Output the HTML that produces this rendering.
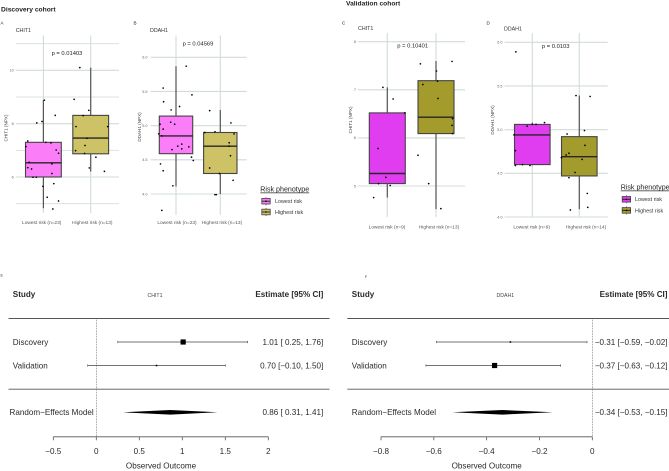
<!DOCTYPE html>
<html>
<head>
<meta charset="utf-8">
<title>CHIT1 and DDAH1 risk phenotype boxplots and forest plots</title>
<style>
html,body{margin:0;padding:0;background:#fff;}
#figure{display:block;width:669px;height:471px;font-family:"Liberation Sans",sans-serif;filter:blur(0.3px);}
</style>
</head>
<body>
<svg id="figure" xmlns="http://www.w3.org/2000/svg" width="669" height="471" viewBox="0 0 669 471">
<rect width="669" height="471" fill="#fff"/>
<text x="1" y="11.5" font-size="6.7" font-weight="bold" fill="#222">Discovery cohort</text>
<text x="346" y="5.5" font-size="6.7" font-weight="bold" fill="#222">Validation cohort</text>
<g id="plots"></g>
</svg>
<script>
// Shared categories
var boxColorsDiscovery = ['#fb7df7', '#cdc265'];
var boxColorsValidation = ['#e03cf0', '#a39b2c'];
var legendLabels = ['Lowest risk', 'Highest risk'];

// Panel A: CHIT1 discovery
var aCategories = ['Lowest risk (n=23)', 'Highest risk (n=13)'];
var aTicks = [10, 8, 6];
var aMinorTicks = [11, 9, 7, 5];
var aBoxStats = [[4.83, 6.0, 6.53, 7.3, 8.88], [6.2, 6.87, 7.46, 8.31, 10.1]];
var aLowValues = [8.88,8.03,8.08,8.31,7.35,7.14,7.30,7.28,7.01,6.89,6.55,6.35,6.30,6.49,6.13,5.99,5.99,5.65,5.75,5.24,5.10,4.80];
var aLowJitter = [.02,-.14,-.03,.25,-.33,-.37,.05,.16,.27,.32,-.30,-.33,-.25,.18,.18,-.22,-.15,-.01,.22,.08,.32,.20];
var aHighValues = [10.10,8.91,8.5,8.30,7.89,7.89,7.45,7.18,6.99,6.88,6.74,6.34,6.21];
var aHighJitter = [-.23,-.35,-.04,-.16,-.31,.36,-.08,-.12,-.32,-.13,.11,-.03,.29];

// Panel B: DDAH1 discovery
var bCategories = ['Lowest risk (n=23)', 'Highest risk (n=13)'];
var bTicks = [6.0, 5.5, 5.0, 4.5, 4.0];
var bBoxStats = [[4.11, 4.59, 4.85, 5.14, 5.87], [4.0, 4.30, 4.70, 4.90, 5.23]];
var bLowValues = [5.87,5.55,5.45,5.35,5.23,5.28,5.05,5.02,5.02,4.95,4.88,4.85,4.70,4.73,4.69,4.65,4.66,4.54,4.49,4.44,4.34,4.12,3.76];
var bLowJitter = [.23,-.29,.36,-.28,-.11,.08,-.12,-.03,-.36,-.29,-.39,-.32,.04,.13,.29,-.09,.13,.35,.39,-.35,-.29,-.07,-.32];
var bHighValues = [5.22,5.04,4.90,4.91,4.88,4.75,4.70,4.56,4.38,4.30,4.20,3.99,3.99];
var bHighJitter = [-.24,.24,-.35,-.12,.31,.2,.2,.23,-.24,-.02,.29,-.12,-.09];

// Panel C: CHIT1 validation
var cCategories = ['Lowest risk (n=9)', 'Highest risk (n=13)'];
var cTicks = [8, 7, 6, 5];
var cBoxStats = [[4.76, 5.05, 5.26, 6.52, 7.05], [4.52, 6.09, 6.43, 7.19, 7.6]];
var cLowValues = [7.05,6.81,6.52,5.78,5.18,5.05,5.01,4.76];
var cLowJitter = [-.09,.12,.36,-.19,-.03,-.18,.06,-.28];
var cHighValues = [7.54,7.59,7.39,7.18,7.11,6.82,6.40,6.26,6.09,5.64,5.05,4.53];
var cHighJitter = [-.32,.33,.01,.03,-.27,.04,.34,.33,.34,-.37,-.15,.10];

// Panel D: DDAH1 validation
var dCategories = ['Lowest risk (n=9)', 'Highest risk (n=14)'];
var dTicks = [6.0, 5.5, 5.0, 4.5, 4.0];
var dBoxStats = [[4.59, 4.60, 4.94, 5.06, 5.08], [4.09, 4.47, 4.69, 4.92, 5.39]];
var dLowValues = [5.89,5.08,5.06,5.06,5.04,4.94,4.76,4.59,4.60,4.59];
var dLowJitter = [-.35,.26,0,.08,-.11,-.39,-.36,-.36,-.21,-.05];
var dHighValues = [5.39,5.38,4.99,4.95,4.82,4.73,4.71,4.68,4.66,4.51,4.45,4.27,4.11,4.08];
var dHighJitter = [-.07,.23,.11,-.26,.12,-.22,-.28,-.38,.06,-.09,-.22,.17,.18,-.19];

// Forest plot E: CHIT1
var eStudies = ['Discovery', 'Validation'];
var eEstimates = [1.01, 0.70];
var eLower = [0.25, -0.10];
var eUpper = [1.76, 1.50];
var eWeights = [1, 0.3];
var eLabels = ['1.01 [ 0.25, 1.76]', '0.70 [\u22120.10, 1.50]'];
var ePooled = [0.31, 0.86, 1.41];
var ePooledLabel = '0.86 [ 0.31, 1.41]';
var eTicks = [-0.5, 0, 0.5, 1, 1.5, 2];
var eTickLabels = ['\u22120.5', '0', '0.5', '1', '1.5', '2'];

// Forest plot F: DDAH1
var fStudies = ['Discovery', 'Validation'];
var fEstimates = [-0.31, -0.37];
var fLower = [-0.59, -0.63];
var fUpper = [-0.02, -0.12];
var fWeights = [0.3, 1];
var fLabels = ['\u22120.31 [\u22120.59, \u22120.02]', '\u22120.37 [\u22120.63, \u22120.12]'];
var fPooled = [-0.53, -0.34, -0.15];
var fPooledLabel = '\u22120.34 [\u22120.53, \u22120.15]';
var fTicks = [-0.8, -0.6, -0.4, -0.2, 0];
var fTickLabels = ['\u22120.8', '\u22120.6', '\u22120.4', '\u22120.2', '0'];

var NS = 'http://www.w3.org/2000/svg';
var root = document.getElementById('plots');

function node(tag, props, name, parent) {
  var el = document.createElementNS(NS, tag);
  for (var k in props) { el.setAttribute(k, props[k]); }
  
  
  (parent || root).appendChild(el);
  return el;
}
function label(str, x, y, size, anchor, fill, name, parent, extra) {
  var props = {x: x, y: y, 'font-size': size, 'text-anchor': anchor, fill: fill};
  if (extra) { for (var k in extra) { props[k] = extra[k]; } }
  var t = node('text', props, name, parent);
  t.textContent = str;
  return t;
}
function linearScale(d0, r0, d1, r1) {
  return function (v) { return r0 + (v - d0) * (r1 - r0) / (d1 - d0); };
}

function boxPanel(p) {
  var g = node('g', {}, 'boxplot-' + p.id, root);
  var y = linearScale(p.dom[0], p.rng[0], p.dom[1], p.rng[1]);
  var x = linearScale(0, p.cx0, 1, p.cx1);
  label(p.letter, p.letterX, 24.5, 4.6, 'start', '#222', 'panel-letter-' + p.id, g);
  label(p.title, p.titleX, p.titleY, 5.3, 'start', '#333', 'panel-title-' + p.id, g);
  label(p.pText, p.pX, p.pY, 5.8, 'middle', '#222', 'p-value-' + p.id, g);
  (p.minor || []).forEach(function (t) {
    node('line', {x1: p.gridL, x2: p.gridR, y1: y(t), y2: y(t), stroke: '#d8e3df', 'stroke-width': 1}, 'minor-gridline', g);
  });
  p.ticks.forEach(function (t) {
    node('line', {x1: p.gridL, x2: p.gridR, y1: y(t), y2: y(t), stroke: '#d0dcd8', 'stroke-width': 1.1}, 'y-gridline', g);
    label(p.decimals ? t.toFixed(1) : String(t), p.tickR, y(t) + 1.3, 3.8, 'end', '#666', 'y-tick-label', g);
  });
  [0, 1].forEach(function (i) {
    node('line', {x1: x(i), x2: x(i), y1: p.top, y2: p.bottom, stroke: '#d0dcd8', 'stroke-width': 1.1}, 'x-gridline', g);
    label(p.cats[i], p.catLabelX[i], p.catLabelY, 4.8, 'middle', '#555', 'x-tick-label', g);
  });
  label(p.yTitle, 0, 0, 4.6, 'middle', '#444', 'y-axis-title-' + p.id, g,
        {transform: 'translate(' + p.yTitleX + ',' + p.yTitleY + ') rotate(-90)'});
  [0, 1].forEach(function (i) {
    var s = p.stats[i], cx = x(i);
    node('line', {x1: cx, x2: cx, y1: y(s[0]), y2: y(s[4]), stroke: '#555', 'stroke-width': 1.2}, 'box-whisker', g);
    node('rect', {x: cx - p.half, width: p.half * 2, y: y(s[3]), height: y(s[1]) - y(s[3]),
      fill: p.colors[i], stroke: '#444', 'stroke-width': 1.1}, 'box-' + (i ? 'highest' : 'lowest') + '-risk', g);
    node('line', {x1: cx - p.half, x2: cx + p.half, y1: y(s[2]), y2: y(s[2]), stroke: '#262626', 'stroke-width': 1.4}, 'box-median', g);
    var vals = p.points[i][0], jit = p.points[i][1];
    vals.forEach(function (v, k) {
      node('circle', {cx: x(i + jit[k]), cy: y(v), r: 0.85, fill: '#000'}, 'data-point', g);
    });
  });
}

function legend(lx, titleY, keyYs, labelX, colors, id) {
  var g = node('g', {}, 'legend-' + id, root);
  label('Risk phenotype', lx, titleY, 7.1, 'start', '#222', 'legend-title', g, {'text-decoration': 'underline'});
  [0, 1].forEach(function (i) {
    var e = node('g', {}, 'legend-entry', g);
    var kx = lx + 1.5, ky = keyYs[i];
    node('line', {x1: kx + 4.2, x2: kx + 4.2, y1: ky - 4, y2: ky + 4, stroke: '#555', 'stroke-width': 0.8}, 'legend-key-whisker', e);
    node('rect', {x: kx, y: ky - 2.8, width: 8.4, height: 5.6, fill: colors[i], stroke: '#444', 'stroke-width': 0.8}, 'legend-key-box', e);
    node('line', {x1: kx, x2: kx + 8.4, y1: ky, y2: ky, stroke: '#222', 'stroke-width': 0.9}, 'legend-key-median', e);
    node('circle', {cx: kx + 4.2, cy: ky, r: 0.8, fill: '#000'}, 'legend-key-point', e);
    label(legendLabels[i], labelX, ky + 1.9, 5.4, 'start', '#333', 'legend-label', e);
  });
}

function forest(p) {
  var g = node('g', {}, 'forest-plot-' + p.id, root);
  var x = linearScale(p.dom[0], p.rng[0], p.dom[1], p.rng[1]);
  var rows = [342, 365.5];
  var text = '#2a2a2a';
  label(p.letter, p.letterX, p.letterY, 3.6, 'start', '#222', 'panel-letter-' + p.id, g);
  label('Study', p.textX, 297, 8.1, 'start', text, 'study-header', g, {'font-weight': 'bold'});
  label(p.title, p.titleX, 296.8, 5.2, 'middle', '#444', 'forest-title-' + p.id, g);
  label('Estimate [95% CI]', p.rightX, 297, 8.1, 'end', text, 'estimate-header', g, {'font-weight': 'bold'});
  node('line', {x1: p.ruleL, x2: p.ruleR, y1: 318.5, y2: 318.5, stroke: '#555', 'stroke-width': 0.9}, 'top-rule', g);
  node('line', {x1: p.ruleL, x2: p.ruleR, y1: 389.2, y2: 389.2, stroke: '#555', 'stroke-width': 0.9}, 'pooled-rule', g);
  node('line', {x1: x(0), x2: x(0), y1: 318.5, y2: 437, stroke: '#555', 'stroke-width': 0.6, 'stroke-dasharray': '0.8 0.8'}, 'null-reference-line', g);
  p.studies.forEach(function (s, i) {
    var y = rows[i], size = p.weights[i] * 5.2;
    label(s, p.textX, y + 2.8, 8.1, 'start', text, 'study-label', g);
    node('line', {x1: x(p.lower[i]), x2: x(p.upper[i]), y1: y, y2: y, stroke: '#444', 'stroke-width': 0.8}, 'confidence-interval', g);
    node('line', {x1: x(p.lower[i]), x2: x(p.lower[i]), y1: y - 1.1, y2: y + 1.1, stroke: '#444', 'stroke-width': 0.6}, 'ci-cap-lower', g);
    node('line', {x1: x(p.upper[i]), x2: x(p.upper[i]), y1: y - 1.1, y2: y + 1.1, stroke: '#444', 'stroke-width': 0.6}, 'ci-cap-upper', g);
    node('rect', {x: x(p.est[i]) - size / 2, y: y - size / 2, width: size, height: size, fill: '#000'}, 'effect-marker', g);
    label(p.labels[i], p.rightX, y + 2.8, 8.1, 'end', text, 'estimate-label', g);
  });
  var py = 412.3;
  label('Random\u2212Effects Model', p.pooledX, py + 2.6, 8.1, 'start', text, 'pooled-label', g);
  node('polygon', {points: [x(p.pooled[0]) + ',' + py, x(p.pooled[1]) + ',' + (py - 2.3), x(p.pooled[2]) + ',' + py, x(p.pooled[1]) + ',' + (py + 2.3)].join(' '), fill: '#000'}, 'pooled-diamond', g);
  label(p.pooledLabel, p.rightX, py + 2.6, 8.1, 'end', text, 'pooled-estimate-label', g);
  var ticks = p.ticks;
  node('line', {x1: x(ticks[0]), x2: x(ticks[ticks.length - 1]), y1: 436.8, y2: 436.8, stroke: '#555', 'stroke-width': 0.8}, 'x-axis-line', g);
  ticks.forEach(function (t, i) {
    node('line', {x1: x(t), x2: x(t), y1: 436.8, y2: 440.3, stroke: '#555', 'stroke-width': 0.8}, 'x-axis-tick', g);
    label(p.tickLabels[i], x(t), 454, 8.1, 'middle', text, 'x-axis-tick-label', g);
  });
  label('Observed Outcome', p.axisTitleX, 468.5, 8.1, 'middle', text, 'x-axis-title', g);
}

boxPanel({id: 'a', letter: 'A', letterX: 0.5, title: 'CHIT1', titleX: 15.7, titleY: 32, pText: 'p = 0.01403', pX: 67, pY: 55,
  yTitle: 'CHIT1 (NPX)', yTitleX: 7.3, yTitleY: 128, dom: [10, 6], rng: [70.3, 177], ticks: aTicks, minor: aMinorTicks,
  gridL: 15.7, gridR: 119, top: 35.5, bottom: 213, cx0: 43.4, cx1: 90.7, half: 17.9, tickR: 13.7,
  cats: aCategories, catLabelX: [41.7, 92.3], catLabelY: 224, stats: aBoxStats, colors: boxColorsDiscovery,
  points: [[aLowValues, aLowJitter], [aHighValues, aHighJitter]]});

boxPanel({id: 'b', letter: 'B', letterX: 133.5, title: 'DDAH1', titleX: 150, titleY: 32, pText: 'p = 0.04569', pX: 198, pY: 45.5,
  yTitle: 'DDAH1 (NPX)', yTitleX: 140.8, yTitleY: 127, dom: [6, 4], rng: [57.3, 194], ticks: bTicks, decimals: true,
  gridL: 150.7, gridR: 246.7, top: 35.5, bottom: 215, cx0: 176, cx1: 220.3, half: 16.7, tickR: 147.5,
  cats: bCategories, catLabelX: [177, 222], catLabelY: 223.8, stats: bBoxStats, colors: boxColorsDiscovery,
  points: [[bLowValues, bLowJitter], [bHighValues, bHighJitter]]});

boxPanel({id: 'c', letter: 'C', letterX: 342, title: 'CHIT1', titleX: 358, titleY: 30, pText: 'p = 0.10401', pX: 412.7, pY: 47.5,
  yTitle: 'CHIT1 (NPX)', yTitleX: 351.8, yTitleY: 120, dom: [8, 5], rng: [41.7, 186], ticks: cTicks,
  gridL: 357.7, gridR: 465, top: 33, bottom: 217, cx0: 387.3, cx1: 436, half: 18, tickR: 356,
  cats: cCategories, catLabelX: [387, 439], catLabelY: 228.5, stats: cBoxStats, colors: boxColorsValidation,
  points: [[cLowValues, cLowJitter], [cHighValues, cHighJitter]]});

boxPanel({id: 'd', letter: 'D', letterX: 486.5, title: 'DDAH1', titleX: 504, titleY: 30.5, pText: 'p = 0.0103', pX: 555.7, pY: 48,
  yTitle: 'DDAH1 (NPX)', yTitleX: 493.8, yTitleY: 120, dom: [6, 4], rng: [42.3, 217], ticks: dTicks, decimals: true,
  gridL: 504.5, gridR: 607.7, top: 33, bottom: 217, cx0: 532.3, cx1: 579.3, half: 17.8, tickR: 502.5,
  cats: dCategories, catLabelX: [531.7, 586], catLabelY: 228.5, stats: dBoxStats, colors: boxColorsValidation,
  points: [[dLowValues, dLowJitter], [dHighValues, dHighJitter]]});

legend(260.3, 191.5, [201.2, 212], 275, boxColorsDiscovery, 'discovery');
legend(620.7, 189.5, [199.3, 210.4], 635, boxColorsValidation, 'validation');

forest({id: 'e', letter: 'E', letterX: 0.5, letterY: 276.5, title: 'CHIT1', titleX: 155, textX: 12.8, pooledX: 9.5, rightX: 323.3,
  ruleL: 8.5, ruleR: 329.5, dom: [-0.5, 2], rng: [53.3, 268.3], studies: eStudies, est: eEstimates, lower: eLower, upper: eUpper,
  weights: eWeights, labels: eLabels, pooled: ePooled, pooledLabel: ePooledLabel, ticks: eTicks, tickLabels: eTickLabels, axisTitleX: 161});

forest({id: 'f', letter: 'F', letterX: 365, letterY: 278, title: 'DDAH1', titleX: 505.3, textX: 351.8, pooledX: 351.8, rightX: 667.5,
  ruleL: 347.3, ruleR: 669, dom: [-0.8, 0], rng: [381, 592.3], studies: fStudies, est: fEstimates, lower: fLower, upper: fUpper,
  weights: fWeights, labels: fLabels, pooled: fPooled, pooledLabel: fPooledLabel, ticks: fTicks, tickLabels: fTickLabels, axisTitleX: 486.7});
</script>
</body>
</html>
